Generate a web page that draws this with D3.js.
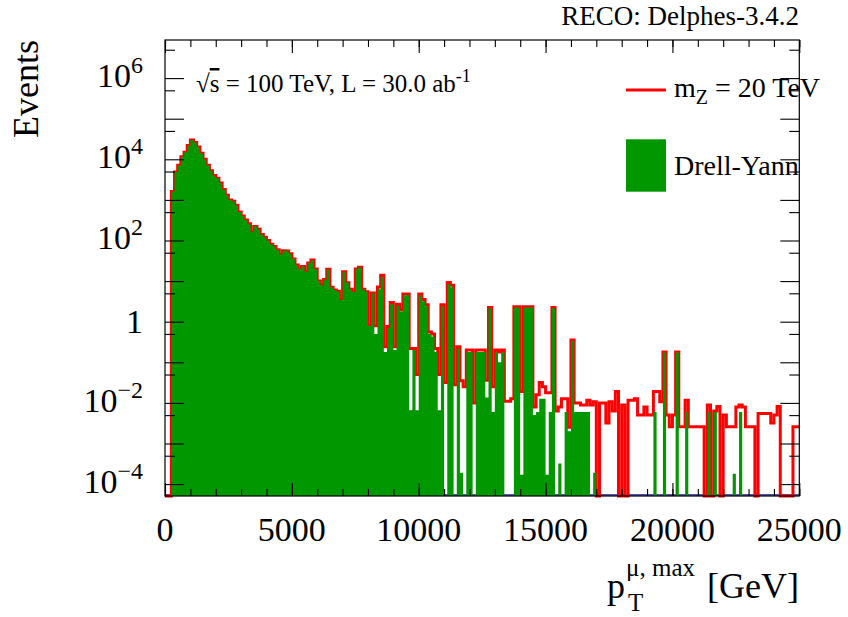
<!DOCTYPE html>
<head>
  <meta charset="utf-8">
  <script src="https://d3js.org/d3.v7.min.js"></script>
  <style>
    body { margin:0; background:#fff; }
    text { font-family:"Liberation Serif", "DejaVu Serif", serif; fill:#000; }
  </style>
</head>

<body>
<script>

/* Data */
/* ==== */

// histogram binning, GeV
var binWidth = 125;
var xTicks = [0, 5000, 10000, 15000, 20000, 25000];
var yExponents = [-4, -2, 0, 2, 4, 6];

// Drell-Yan background, events per bin
var drellYan = [
  0, 0, 1600, 4900, 7100, 11500, 15000, 22000, 30000, 26000,
  20000, 14000, 10000, 7100, 5200, 4000, 3400, 2600, 1800, 1300,
  1000, 930, 740, 500, 400, 320, 260, 160, 220, 190,
  140, 120, 100, 81, 71, 59, 45, 56, 55, 47,
  35, 25, 20, 23, 17, 28, 33, 20, 10, 7.9,
  11, 19.5, 7.1, 6.0, 5.6, 3.4, 17, 9.1, 6.3, 5.5,
  20, 22, 6.3, 5.5, 0.8, 5.1, 0.5, 6.3, 12.6, 0.18,
  0.71, 2.7, 0.2, 2.5, 1.8, 4.5, 4.5, 0.0066, 0.2, 0.0066,
  4.5, 3.2, 2.4, 0.5, 0.43, 0.18, 0.0066, 2.4, 0, 8.5,
  7.1, 0, 0.22, 0.00019, 0, 0.18, 0.18, 0, 0.18, 0.18,
  0.18, 0.0135, 2.14, 0.006, 0.18, 0.1, 0.18, 0, 0, 0,
  2.24, 2.24, 0.00017, 2.24, 2.24, 2.24, 0.005, 0.006, 0.0126, 0.0126,
  0.00017, 0.006, 2.14, 0, 0.00032, 0, 0.006, 0.002, 0.34, 0.006,
  0.006, 0.006, 0.006, 0.006, 0, 0.00019, 0, 0, 0, 0,
  0, 0, 0, 0, 0, 0, 0, 0, 0, 0,
  0, 0, 0, 0, 0.006, 0, 0, 0.174, 0, 0,
  0, 0.174, 0, 0, 0.006, 0, 0, 0, 0, 0,
  0, 0.006, 0, 0.006, 0, 0, 0, 0, 0, 0.00018,
  0, 0.006, 0, 0, 0, 0, 0, 0, 0, 0,
  0, 0, 0, 0, 0, 0, 0, 0, 0, 0
];

// m_Z = 20 TeV signal stacked on Drell-Yan (red outline)
var zprimeTotal = [
  0, 0, 1600, 4900, 7100, 11500, 15000, 22000, 30000, 26000,
  20000, 14000, 10000, 7100, 5200, 4000, 3400, 2600, 1800, 1300,
  1000, 930, 740, 500, 400, 320, 260, 160, 220, 190,
  140, 120, 100, 81, 71, 59, 45, 56, 55, 47,
  35, 25, 20, 23, 17, 28, 33, 20, 10, 7.9,
  11, 19.5, 7.1, 6.0, 5.6, 3.4, 17, 9.1, 6.3, 5.5,
  20, 22, 6.3, 5.5, 0.8, 5.1, 0.8, 7.2, 14, 0.24,
  0.76, 2.95, 0.24, 2.7, 2.0, 4.8, 4.8, 0.22, 0.22, 0.05,
  4.8, 3.5, 2.6, 0.56, 0.5, 0.22, 0.05, 2.6, 0.032, 9.3,
  7.9, 0.028, 0.24, 0.035, 0.025, 0.2, 0.2, 0.01, 0.2, 0.2,
  0.2, 0.036, 2.24, 0.025, 0.2, 0.18, 0.2, 0.011, 0.011, 0.0126,
  2.34, 2.34, 0.019, 2.34, 2.34, 2.34, 0.0079, 0.0158, 0.032, 0.025,
  0.0178, 0.0178, 2.24, 0.0063, 0.0079, 0.0126, 0.0126, 0.0025, 0.355, 0.01,
  0.01, 0.0089, 0.0089, 0.0117, 0.0089, 0.0107, 0, 0.01, 0.01, 0.0032,
  0.0107, 0.0063, 0.019, 0, 0.0089, 0, 0.0117, 0.0117, 0.0126, 0.005,
  0.005, 0.0079, 0.005, 0.005, 0.019, 0.019, 0.0107, 0.18, 0.005, 0.0026,
  0.005, 0.18, 0.0026, 0.0026, 0.0117, 0.0026, 0.0026, 0.0026, 0.0026, 0.0026,
  0, 0.0089, 0, 0.0063, 0.0081, 0, 0.005, 0.0026, 0.0026, 0.0026,
  0.0079, 0.0089, 0.0079, 0.0026, 0.0026, 0.0026, 0, 0.0055, 0.0055, 0.0055,
  0.0055, 0.0032, 0.005, 0.0081, 0, 0, 0, 0, 0.0026, 0.0026
];


/* Set up */
/* ====== */

var width = 848,
    height = 617,
    frame = { left: 165, right: 799.3, top: 40, bottom: 496 };

var svg = d3.select('body')
  .append('svg')
    .attr('width', width)
    .attr('height', height);

var x = d3.scaleLinear()
    .domain([0, 25000])
    .range([frame.left, frame.right]);

var y = d3.scaleLog()
    .domain([5.09e-5, 8.68e6])
    .range([frame.bottom, frame.top]);

var ymin = y.domain()[0];

// one point per bin low edge, plus the closing edge
function steps(values) {
  var pts = values.map(function(v, i) { return { e: i * binWidth, v: v }; });
  pts.push({ e: values.length * binWidth, v: values[values.length - 1] });
  return pts;
}

function yv(v) { return y(Math.max(v, ymin)); }


/* Histograms */
/* ========== */

// dark blue empty histogram sitting on the floor
svg.append('line')
    .attr('x1', frame.left).attr('x2', frame.right)
    .attr('y1', frame.bottom - 1).attr('y2', frame.bottom - 1)
    .attr('stroke', '#1a1a8c')
    .attr('stroke-width', 1.6);

var redLine = d3.line()
    .x(function(d) { return x(d.e); })
    .y(function(d) { return yv(d.v); })
    .curve(d3.curveStepAfter);

svg.append('path')
    .datum(steps(zprimeTotal))
    .attr('d', redLine)
    .attr('fill', 'none')
    .attr('stroke', '#ff0000')
    .attr('stroke-width', 3)
    .attr('stroke-linejoin', 'miter');

var greenArea = d3.area()
    .x(function(d) { return x(d.e); })
    .y0(frame.bottom)
    .y1(function(d) { return yv(d.v); })
    .curve(d3.curveStepAfter);

svg.append('path')
    .datum(steps(drellYan))
    .attr('d', greenArea)
    .attr('fill', '#009700')
    .attr('stroke', 'none');


/* Axes */
/* ==== */

var xMinor = d3.range(0, 25001, 1000);
var yMajor = d3.range(-4, 7).map(function(e) { return Math.pow(10, e); });
var yMinor = d3.range(-5, 7).map(function(e) { return 5 * Math.pow(10, e); })
    .filter(function(v) { return v > ymin && v < y.domain()[1]; });

function ticks(g, axis) {
  g.call(axis);
  g.select('.domain').remove();
  g.selectAll('line').attr('stroke', '#000').attr('stroke-width', 1.1);
}

svg.append('g').attr('transform', 'translate(0,' + frame.bottom + ')')
  .call(ticks, d3.axisBottom(x).tickValues(xMinor).tickSize(-7).tickFormat(''));
svg.append('g').attr('transform', 'translate(0,' + frame.bottom + ')')
  .call(ticks, d3.axisBottom(x).tickValues(xTicks).tickSize(-13).tickFormat(''));
svg.append('g').attr('transform', 'translate(0,' + frame.top + ')')
  .call(ticks, d3.axisTop(x).tickValues(xMinor).tickSize(-7).tickFormat(''));
svg.append('g').attr('transform', 'translate(0,' + frame.top + ')')
  .call(ticks, d3.axisTop(x).tickValues(xTicks).tickSize(-13).tickFormat(''));

svg.append('g').attr('transform', 'translate(' + frame.left + ',0)')
  .call(ticks, d3.axisLeft(y).tickValues(yMajor).tickSize(-19).tickFormat(''));
svg.append('g').attr('transform', 'translate(' + frame.left + ',0)')
  .call(ticks, d3.axisLeft(y).tickValues(yMinor).tickSize(-10).tickFormat(''));
svg.append('g').attr('transform', 'translate(' + frame.right + ',0)')
  .call(ticks, d3.axisRight(y).tickValues(yMajor).tickSize(-19).tickFormat(''));
svg.append('g').attr('transform', 'translate(' + frame.right + ',0)')
  .call(ticks, d3.axisRight(y).tickValues(yMinor).tickSize(-10).tickFormat(''));

svg.append('rect')
    .attr('x', frame.left).attr('y', frame.top)
    .attr('width', frame.right - frame.left)
    .attr('height', frame.bottom - frame.top)
    .attr('fill', 'none')
    .attr('stroke', '#000')
    .attr('stroke-width', 1.2);

// tick labels
svg.selectAll('.xlab')
    .data(xTicks)
    .enter()
  .append('text')
    .attr('class', 'xlab')
    .attr('x', function(d) { return x(d); })
    .attr('y', 541)
    .attr('text-anchor', 'middle')
    .style('font-size', '34px')
    .text(function(d) { return d; });

var ylab = svg.selectAll('.ylab')
    .data(yExponents)
    .enter()
  .append('text')
    .attr('class', 'ylab')
    .attr('x', 143)
    .attr('y', function(d) { return y(Math.pow(10, d)) + (d === 0 ? 11 : 9); })
    .attr('text-anchor', 'end')
    .style('font-size', '34px');

ylab.append('tspan')
    .text(function(d) { return d === 0 ? '1' : '10'; });
ylab.filter(function(d) { return d !== 0; })
  .append('tspan')
    .attr('dy', -14)
    .style('font-size', '24px')
    .text(function(d) { return String(d).replace('-', '\u2212'); });


/* Titles and labels */
/* ================= */

svg.append('text')
    .attr('transform', 'translate(38,40) rotate(-90)')
    .attr('text-anchor', 'end')
    .style('font-size', '36px')
    .text('Events');

// x title: p_T^{mu, max} [GeV], right aligned on the frame
var gev = svg.append('text')
    .attr('x', 799).attr('y', 598)
    .attr('text-anchor', 'end')
    .style('font-size', '36px')
    .text('[GeV]');
var supEnd = 799 - gev.node().getComputedTextLength() - 12;
var sup = svg.append('text')
    .attr('x', supEnd).attr('y', 576)
    .attr('text-anchor', 'end')
    .style('font-size', '25px')
    .text('\u03bc, max');
var supStart = supEnd - sup.node().getComputedTextLength();
svg.append('text')
    .attr('x', supStart + 2).attr('y', 611)
    .style('font-size', '25px')
    .text('T');
svg.append('text')
    .attr('x', supStart - 1).attr('y', 598)
    .attr('text-anchor', 'end')
    .style('font-size', '36px')
    .text('p');

svg.append('text')
    .attr('x', 799).attr('y', 25)
    .attr('text-anchor', 'end')
    .style('font-size', '27px')
    .text('RECO: Delphes-3.4.2');

var lumi = svg.append('text')
    .attr('x', 196).attr('y', 92)
    .style('font-size', '25px');
lumi.append('tspan').text('\u221a');
lumi.append('tspan').style('text-decoration', 'overline').text('s');
lumi.append('tspan').text(' = 100 TeV, L = 30.0 ab');
lumi.append('tspan').attr('dy', -10).style('font-size', '18px').text('-1');


/* Legend */
/* ====== */

svg.append('line')
    .attr('x1', 626).attr('x2', 666)
    .attr('y1', 90).attr('y2', 90)
    .attr('stroke', '#ff0000')
    .attr('stroke-width', 3);

var lg1 = svg.append('text')
    .attr('x', 674).attr('y', 97)
    .style('font-size', '28px');
lg1.append('tspan').text('m');
lg1.append('tspan').attr('dy', 7).style('font-size', '20px').text('Z');
lg1.append('tspan').attr('dy', -7).text(' = 20 TeV');

svg.append('rect')
    .attr('x', 626).attr('y', 139.3)
    .attr('width', 40).attr('height', 52.4)
    .attr('fill', '#009700');

svg.append('text')
    .attr('x', 674).attr('y', 175)
    .style('font-size', '28px')
    .text('Drell-Yann');

</script>
</body>
